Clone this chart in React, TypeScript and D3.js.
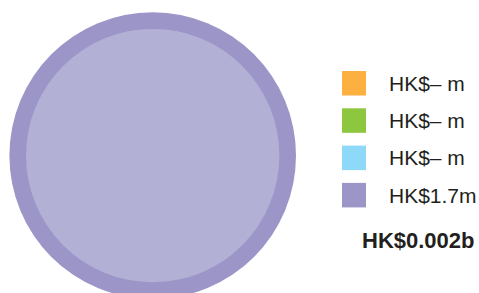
import React from "react";
import * as d3 from "d3";

const categories = ["A", "B", "C", "D"];
const values = [0, 0, 0, 1.7];
const labels = ["HK$– m", "HK$– m", "HK$– m", "HK$1.7m"];
const colors = ["#FBB040", "#8DC63F", "#8ED8F8", "#9C95C8"];
const innerColors = ["#FCC870", "#A9D46E", "#AAE2FA", "#B3B0D6"];
const totalLabel = "HK$0.002b";

export default function App() {
  const W = 479, H = 293;
  const cx = 152.7, cy = 155.6;
  const rOuter = 143.3, rInner = 126.7;
  const pie = d3.pie<number>().sort(null).value((d) => d);
  const arcs = pie(values);
  const full = d3.arc<d3.PieArcDatum<number>>().innerRadius(0).outerRadius(rOuter);
  const core = d3.arc<d3.PieArcDatum<number>>().innerRadius(0).outerRadius(rInner);
  const legendY = d3.scaleBand<string>().domain(categories).range([71, 71 + 37.3 * 4]);
  const font = "'Liberation Sans', Arial, Helvetica, sans-serif";
  return (
    <svg width={W} height={H} style={{ position: "absolute", left: 0, top: 0 }}>
      <g transform={`translate(${cx},${cy})`}>
        {arcs.map((a, i) =>
          a.endAngle - a.startAngle > 0 ? (
            <g key={i}>
              <path d={full(a) || ""} fill={colors[i]} />
              <path d={core(a) || ""} fill={innerColors[i]} />
            </g>
          ) : null
        )}
      </g>
      {categories.map((c, i) => {
        const y = legendY(c)!;
        return (
          <g key={c}>
            <rect x={342} y={y} width={24} height={24.5} fill={colors[i]} />
            <text x={389} y={y + 19.8} fontFamily={font} fontSize={21} fill="#231F20">
              {labels[i]}
            </text>
          </g>
        );
      })}
      <text x={362} y={248.3} fontFamily={font} fontSize={22} fontWeight="bold" fill="#231F20">
        {totalLabel}
      </text>
    </svg>
  );
}
